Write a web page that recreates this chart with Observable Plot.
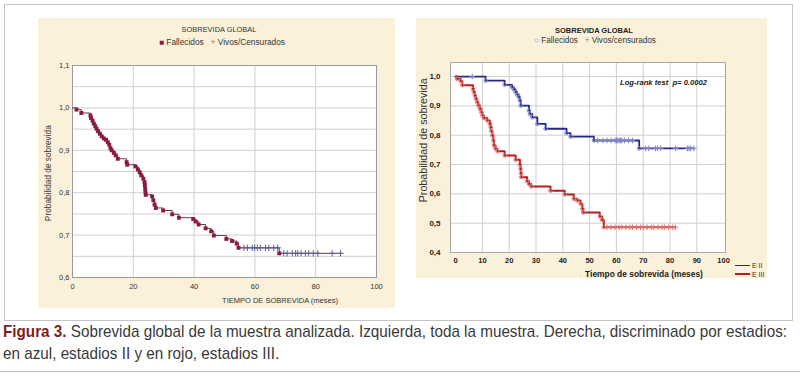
<!DOCTYPE html>
<html><head><meta charset="utf-8">
<script src="https://cdn.jsdelivr.net/npm/d3@7"></script>
<script src="https://cdn.jsdelivr.net/npm/@observablehq/plot@0.6"></script>
<style>
html,body{margin:0;padding:0;background:#fff;}
#root{position:relative;width:800px;height:379px;overflow:hidden;font-family:"Liberation Sans",Arial,sans-serif;color:#222;}
.abs{position:absolute;white-space:nowrap;line-height:1;}
.panel{position:absolute;background:#fbf1da;}
.panel svg{display:block;}
</style></head><body><div id="root"></div>
<script>
// ---------- LEFT PANEL: whole sample ----------
const leftDeathT = [1.3, 2.9, 5.9, 6.1, 6.6, 7.0, 7.5, 7.9, 8.4, 9.0, 9.6, 10.3, 11.0, 11.6, 12.1, 12.5, 12.9, 13.6, 14.2, 14.9, 17.8, 18.0, 20.7, 21.5, 22.1, 22.6, 23.3, 23.7, 23.8, 23.9, 24.0, 24.1, 26.2, 26.6, 27.0, 27.4, 29.8, 32.8, 35.0, 39.7, 40.5, 41.5, 43.8, 45.6, 46.5, 50.6, 52.5, 54.0, 54.6, 68.0];
const leftDeathS = [0.996, 0.988, 0.982, 0.976, 0.970, 0.963, 0.957, 0.951, 0.945, 0.939, 0.933, 0.928, 0.925, 0.919, 0.913, 0.905, 0.900, 0.894, 0.888, 0.880, 0.872, 0.866, 0.862, 0.855, 0.848, 0.841, 0.833, 0.825, 0.818, 0.809, 0.801, 0.795, 0.791, 0.782, 0.772, 0.764, 0.758, 0.749, 0.741, 0.738, 0.732, 0.725, 0.716, 0.709, 0.699, 0.691, 0.686, 0.680, 0.670, 0.657];
const leftCensT = [56.4, 57.5, 59.1, 59.9, 60.8, 61.8, 63.5, 64.6, 66.2, 67.5, 69.5, 70.6, 72.3, 73.4, 74.1, 75.2, 76.6, 77.7, 79.2, 80.7, 85.4, 88.2];
const leftCensS = [0.670, 0.670, 0.670, 0.670, 0.670, 0.670, 0.670, 0.670, 0.670, 0.670, 0.657, 0.657, 0.657, 0.657, 0.657, 0.657, 0.657, 0.657, 0.657, 0.657, 0.657, 0.657];
const leftXTicks = [0, 20, 40, 60, 80, 100];
const leftYTicks = [0.6, 0.7, 0.8, 0.9, 1.0, 1.1];
const leftGridX = [20, 40, 60, 80];
const leftGridY = [0.65, 0.7, 0.75, 0.8, 0.85, 0.9, 0.95, 1.0, 1.05];

// ---------- RIGHT PANEL: by stage ----------
const blueDeathT = [11.2, 18.3, 21.1, 21.8, 22.4, 23.0, 23.6, 24.0, 24.3, 27.4, 27.7, 28.6, 30.5, 33.6, 41.4, 42.9, 51.6, 68.5];
const blueDeathS = [0.986, 0.972, 0.964, 0.956, 0.947, 0.938, 0.930, 0.918, 0.901, 0.884, 0.873, 0.861, 0.839, 0.822, 0.807, 0.795, 0.782, 0.755];
const blueCensT = [6.2, 53, 55, 56.5, 58, 59.5, 60, 60.5, 61, 61.5, 62, 63, 64.5, 66, 70.9, 72.1, 74.6, 75.3, 76.5, 82.1, 86.5, 87.1, 87.7, 88.9];
const blueCensS = [1.0, 0.782, 0.782, 0.782, 0.782, 0.782, 0.782, 0.782, 0.782, 0.782, 0.782, 0.782, 0.782, 0.782, 0.755, 0.755, 0.755, 0.755, 0.755, 0.755, 0.755, 0.755, 0.755, 0.755];
const redDeathT = [0.6, 1.9, 2.5, 6.5, 6.8, 7.2, 7.6, 8.1, 8.5, 9.1, 9.6, 10.0, 10.6, 11.8, 12.8, 13.1, 13.3, 13.7, 14.1, 14.3, 14.9, 15.6, 18.3, 22.4, 24.0, 24.2, 24.4, 24.5, 26.7, 27.4, 28.2, 35.4, 40.7, 44.1, 45.4, 46.6, 47.3, 47.6, 53.8, 54.7, 55.3];
const redDeathS = [0.992, 0.984, 0.970, 0.958, 0.947, 0.935, 0.924, 0.912, 0.901, 0.890, 0.878, 0.867, 0.859, 0.850, 0.839, 0.827, 0.814, 0.799, 0.782, 0.765, 0.754, 0.745, 0.731, 0.716, 0.700, 0.685, 0.670, 0.657, 0.643, 0.634, 0.625, 0.611, 0.598, 0.583, 0.577, 0.566, 0.549, 0.536, 0.523, 0.511, 0.486];
const redCensT = [56.5, 58, 59.5, 61, 62, 63.5, 65, 66, 67.5, 69, 70, 71.5, 73, 74, 75.5, 77, 78, 79.5, 81, 82];
const redCensS = [0.486, 0.486, 0.486, 0.486, 0.486, 0.486, 0.486, 0.486, 0.486, 0.486, 0.486, 0.486, 0.486, 0.486, 0.486, 0.486, 0.486, 0.486, 0.486, 0.486];
const rightXTicks = [0, 10, 20, 30, 40, 50, 60, 70, 80, 90, 100];
const rightYTicks = [0.4, 0.5, 0.6, 0.7, 0.8, 0.9, 1.0];
const seriesNames = ["E II", "E III"];

// ---------- helpers ----------
const root = document.getElementById("root");
const pts = (T, S) => T.map((t, i) => ({t, s: S[i]}));
const stepLine = (T, S, CT, CS) => [{t: 0, s: 1}, ...pts(T, S), {t: CT[CT.length - 1], s: CS[CS.length - 1]}];
const fmtComma = d => d.toFixed(1).replace(".", ",");

function box(cls, css) {
  const d = document.createElement("div");
  d.className = cls;
  Object.assign(d.style, css);
  root.appendChild(d);
  return d;
}
function text(html, o) {
  const el = document.createElement("div");
  el.className = "abs";
  el.innerHTML = html;
  el.style.fontSize = "10px";
  if (o.bold) el.style.fontWeight = "bold";
  if (o.italic) el.style.fontStyle = "italic";
  el.style.color = o.color || "#222";
  if (o.font) el.style.fontFamily = o.font;
  root.appendChild(el);
  if (o.sx) {
    // fixed font size, horizontally scaled to the target width
    el.style.fontSize = o.fs + "px";
    const r = el.getBoundingClientRect();
    const k = o.sx === true ? o.k : o.sx / r.width;
    el.style.left = o.x + "px";
    el.style.top = (o.cy - r.height / 2) + "px";
    el.style.transformOrigin = "0 50%";
    el.style.transform = "scaleX(" + k + ")";
    el._k = k;
    return el;
  }
  let w = el.getBoundingClientRect().width;
  const fs = o.w ? 10 * o.w / w : (o.fs || 10);
  el.style.fontSize = fs + "px";
  const r = el.getBoundingClientRect();
  const cx = o.cx != null ? o.cx : o.x + r.width / 2;
  el.style.left = (cx - r.width / 2) + "px";
  el.style.top = (o.cy - r.height / 2) + "px";
  if (o.rotate) el.style.transform = "rotate(-90deg)";
  return el;
}

// ---------- frame ----------
box("abs", {left: "4px", top: "4px", width: "787px", height: "315px", border: "1px solid #c4c4c4"});
box("abs", {left: "0px", top: "371px", width: "800px", height: "0px", borderTop: "1px solid #bdbdbd"});

// ---------- left chart ----------
const lp = box("panel", {left: "38px", top: "18px", width: "357px", height: "290px"});
const leftPlot = Plot.plot({
  width: 357, height: 290,
  marginLeft: 34, marginRight: 19, marginTop: 47, marginBottom: 31,
  style: {background: "transparent", fontFamily: "Liberation Sans, Arial, sans-serif", fontSize: "8px", color: "#333", overflow: "visible"},
  x: {domain: [0, 100]},
  y: {domain: [0.6, 1.1]},
  marks: [
    Plot.frame({fill: "white"}),
    Plot.gridX(leftGridX, {stroke: "#cfcfcf", strokeOpacity: 1}),
    Plot.gridY(leftGridY, {stroke: "#cfcfcf", strokeOpacity: 1}),
    Plot.frame({stroke: "#9a9a9a"}),
    Plot.axisX(leftXTicks, {label: null, tickSize: 0, tickPadding: 6, fontSize: 7.5}),
    Plot.axisY(leftYTicks, {label: null, tickSize: 0, tickPadding: 3, tickFormat: fmtComma, fontSize: 7.5}),
    Plot.line(stepLine(leftDeathT, leftDeathS, leftCensT, leftCensS), {x: "t", y: "s", curve: "step-after", stroke: "#6d3550", strokeWidth: 1}),
    Plot.dot(pts(leftCensT, leftCensS), {x: "t", y: "s", symbol: "plus", r: 2.2, stroke: "#5d5d90", strokeWidth: 1}),
    Plot.dot(pts(leftDeathT, leftDeathS), {x: "t", y: "s", symbol: "square", r: 2.2, fill: "#8a1a42", stroke: "none"})
  ]
});
lp.appendChild(leftPlot);

text("SOBREVIDA GLOBAL", {cx: 219, cy: 30, w: 75, color: "#333"});
text('<span style="color:#8a1a42">&#9632;</span> Fallecidos &nbsp;&nbsp;<span style="color:#777">+</span> Vivos/Censurados', {cx: 222, cy: 42, w: 126, color: "#333"});
text("TIEMPO DE SOBREVIDA (meses)", {cx: 280, cy: 300.5, w: 116, color: "#333"});
text("Probabilidad de sobrevida", {cx: 48, cy: 173, w: 96, color: "#333", rotate: true});

// ---------- right chart ----------
const rp = box("panel", {left: "416px", top: "18px", width: "351px", height: "260px"});
const colors = {[seriesNames[0]]: "#23288a", [seriesNames[1]]: "#b81c1c"};
const light = {[seriesNames[0]]: "#7f86c4", [seriesNames[1]]: "#e07878"};
const rightPlot = Plot.plot({
  width: 351, height: 260,
  marginLeft: 34, marginRight: 42, marginTop: 44, marginBottom: 26,
  style: {background: "transparent", fontFamily: "Liberation Sans, Arial, sans-serif", fontSize: "8px", color: "#222", overflow: "visible"},
  x: {domain: [-1.9, 100.7]},
  y: {domain: [0.4, 1.048]},
  marks: [
    Plot.frame({fill: "white"}),
    Plot.gridX(rightXTicks.slice(1, -1), {stroke: "#cfcfcf", strokeOpacity: 1}),
    Plot.gridY(rightYTicks.slice(1), {stroke: "#cfcfcf", strokeOpacity: 1}),
    Plot.frame({stroke: "#a8a8a8"}),
    Plot.axisX(rightXTicks, {label: null, tickSize: 0, tickPadding: 5, fontWeight: "bold", fontSize: 7.5}),
    Plot.axisY(rightYTicks, {label: null, tickSize: 0, tickPadding: 10, tickFormat: fmtComma, fontWeight: "bold", fontSize: 8}),
    Plot.line(stepLine(blueDeathT, blueDeathS, blueCensT, blueCensS), {x: "t", y: "s", curve: "step-after", stroke: colors[seriesNames[0]], strokeWidth: 1.8}),
    Plot.line(stepLine(redDeathT, redDeathS, redCensT, redCensS), {x: "t", y: "s", curve: "step-after", stroke: colors[seriesNames[1]], strokeWidth: 2}),
    Plot.dot(pts(blueDeathT, blueDeathS), {x: "t", y: "s", r: 1.8, stroke: light[seriesNames[0]], strokeWidth: 1}),
    Plot.dot(pts(redDeathT, redDeathS), {x: "t", y: "s", r: 1.8, stroke: light[seriesNames[1]], strokeWidth: 1}),
    Plot.dot(pts(blueCensT, blueCensS), {x: "t", y: "s", symbol: "plus", r: 2, stroke: light[seriesNames[0]], strokeWidth: 1}),
    Plot.dot(pts(redCensT, redCensS), {x: "t", y: "s", symbol: "plus", r: 2, stroke: light[seriesNames[1]], strokeWidth: 1})
  ]
});
rp.appendChild(rightPlot);

text("SOBREVIDA GLOBAL", {cx: 594, cy: 31, w: 78, bold: true, color: "#222"});
text('<span style="color:#8088b8">&#9675;</span> Fallecidos &nbsp;&nbsp;<span style="color:#8088b8">+</span> Vivos/censurados', {cx: 595, cy: 41, w: 122, color: "#333"});
text("Log-rank test&nbsp; p= 0.0002", {x: 620, cy: 83, w: 87, bold: true, italic: true, color: "#222"});
text("Tiempo de sobrevida (meses)", {cx: 644, cy: 274, w: 118, bold: true, color: "#222"});
text("Probabilidad de sobrevida", {cx: 423, cy: 140, w: 124, color: "#333", rotate: true});

// bottom-right series legend
box("abs", {left: "735px", top: "264.5px", width: "15px", height: "0px", borderTop: "1px solid " + colors[seriesNames[0]]});
box("abs", {left: "735px", top: "273px", width: "15px", height: "0px", borderTop: "2px solid " + colors[seriesNames[1]]});
text(seriesNames[0], {x: 752, cy: 265, fs: 7, color: "#333"});
text(seriesNames[1], {x: 752, cy: 274, fs: 7, color: "#333"});

// ---------- caption ----------
const capFont = '"Liberation Sans",Arial,sans-serif';
const c1 = text('<b style="color:#7e1e1e">Figura 3.</b> Sobrevida global de la muestra analizada. Izquierda, toda la muestra. Derecha, discriminado por estadios:', {x: 3, cy: 331, fs: 17, sx: 784, color: "#3a3a3a", font: capFont});
text("en azul, estadios II y en rojo, estadios III.", {x: 3, cy: 353, fs: 17, sx: true, k: c1._k, color: "#3a3a3a", font: capFont});
</script></body></html>
